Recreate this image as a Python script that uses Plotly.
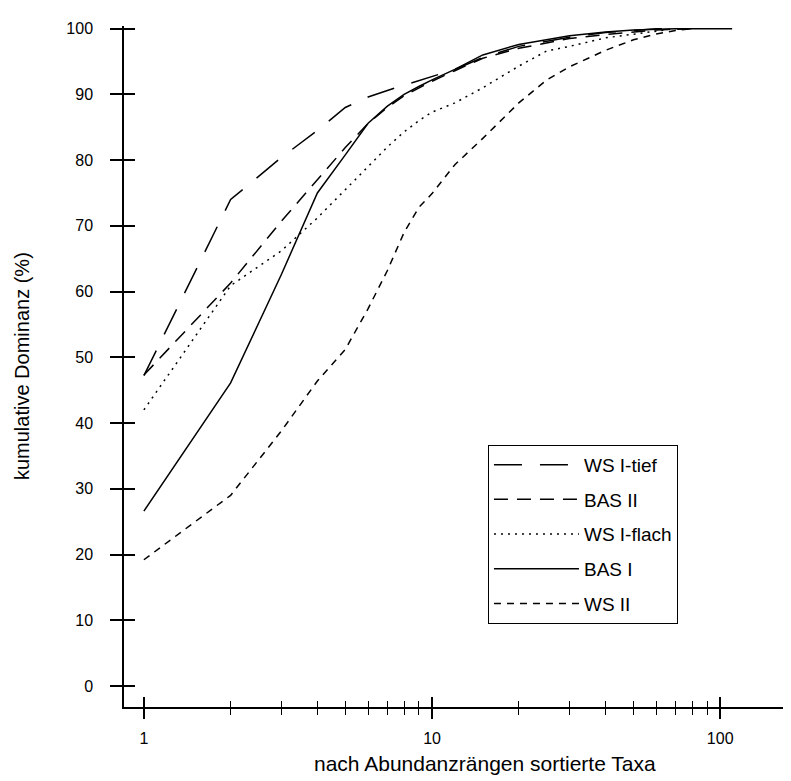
import plotly.graph_objects as go

# Ränge (x) und kumulative Dominanz (%) je Standort
ranks_ws1_tief = [1, 2, 3, 4, 5, 6, 7, 8, 9, 10, 12, 15, 20, 30, 40, 50, 60, 70]
ws1_tief = [47.2, 74.0, 80.4, 84.5, 88.0, 89.6, 90.6, 91.4, 92.0, 92.7,
            93.8, 95.6, 97.3, 98.7, 99.4, 99.7, 100, 100]

ranks_bas2 = [1, 2, 3, 4, 5, 6, 7, 8, 9, 10, 12, 15, 20, 30, 40, 50, 60, 80]
bas2 = [47.3, 61.3, 70.7, 77.1, 81.9, 85.6, 88.0, 89.8, 91.0, 92.0,
        93.6, 95.5, 97.0, 98.5, 99.1, 99.5, 99.8, 100]

ranks_ws1_flach = [1, 2, 3, 4, 5, 6, 7, 8, 9, 10, 12, 15, 20, 25, 30, 40, 50, 60, 70]
ws1_flach = [42.0, 60.9, 66.2, 71.2, 75.5, 79.0, 82.0, 84.3, 86.0, 87.3,
             88.7, 91.0, 94.3, 96.6, 97.3, 98.6, 99.2, 99.6, 100]

ranks_bas1 = [1, 2, 3, 4, 5, 6, 7, 8, 9, 10, 12, 15, 20, 30, 40, 50, 70, 110]
bas1 = [26.6, 46.1, 62.6, 75.0, 80.8, 85.6, 88.2, 90.0, 91.2, 92.2,
        93.8, 96.0, 97.6, 98.9, 99.5, 99.8, 100, 100]

ranks_ws2 = [1, 2, 3, 4, 5, 6, 7, 8, 9, 10, 12, 15, 20, 25, 30, 40, 50, 60, 70, 80]
ws2 = [19.2, 29.0, 38.8, 46.4, 51.2, 57.4, 63.2, 69.0, 72.8, 74.9,
       79.3, 83.3, 88.7, 92.2, 94.2, 96.7, 98.3, 99.2, 99.7, 100]

y_ticks = [0, 10, 20, 30, 40, 50, 60, 70, 80, 90, 100]
x_ticks = [1, 10, 100]
x_minor = [2, 3, 4, 5, 6, 7, 8, 9, 20, 30, 40, 50, 60, 70, 80, 90]

FONT = "Liberation Sans, Arial, sans-serif"
X_RANGE = [-0.069, 2.27]
Y_RANGE = [-3.2, 100.4]

series = [
    ("WS I-tief", ranks_ws1_tief, ws1_tief, "28px,18px"),
    ("BAS II", ranks_bas2, bas2, "14px,9px"),
    ("WS I-flach", ranks_ws1_flach, ws1_flach, "2px,5px"),
    ("BAS I", ranks_bas1, bas1, "solid"),
    ("WS II", ranks_ws2, ws2, "7px,6px"),
]

fig = go.Figure()
for name, x, y, dash in series:
    fig.add_trace(go.Scatter(
        x=x, y=y, name=name, legendgroup=name, mode="lines",
        line=dict(color="black", width=1.5, dash=dash),
    ))

fig.update_layout(
    width=791, height=781,
    paper_bgcolor="white", plot_bgcolor="white",
    margin=dict(l=116, r=1, t=18, b=82),
    font=dict(family=FONT, size=16, color="black"),
    showlegend=True,
    legend=dict(
        x=0.540, y=0.385, xanchor="left", yanchor="top",
        bordercolor="black", borderwidth=1, bgcolor="white",
        font=dict(size=19), itemwidth=85, tracegroupgap=7,
    ),
    xaxis=dict(
        type="log", range=X_RANGE, showgrid=False, zeroline=False,
        showline=True, linecolor="black", linewidth=1.5,
        tickvals=x_ticks, ticktext=[str(v) for v in x_ticks],
        ticks="outside", ticklen=10, tickwidth=1.5, tickcolor="black",
        minor=dict(tickvals=x_minor, ticks="outside", ticklen=6,
                   tickwidth=1.2, tickcolor="black", showgrid=False),
        ticklabelstandoff=6,
    ),
    xaxis2=dict(
        type="log", range=X_RANGE, overlaying="x", anchor="y",
        showgrid=False, zeroline=False, showline=False,
        tickvals=x_ticks, showticklabels=False,
        ticks="inside", ticklen=10, tickwidth=1.5, tickcolor="black",
        minor=dict(tickvals=x_minor, ticks="inside", ticklen=6,
                   tickwidth=1.2, tickcolor="black", showgrid=False),
    ),
    yaxis=dict(
        range=Y_RANGE, showgrid=False, zeroline=False,
        showline=True, linecolor="black", linewidth=1.5,
        tickvals=y_ticks, ticks="outside", ticklen=12,
        tickwidth=1.5, tickcolor="black", ticklabelstandoff=14,
    ),
    yaxis2=dict(
        range=Y_RANGE, overlaying="y", anchor="x", side="left",
        showgrid=False, zeroline=False, showline=False,
        tickvals=y_ticks, showticklabels=False,
        ticks="inside", ticklen=11, tickwidth=1.5, tickcolor="black",
    ),
    annotations=[
        dict(text="nach Abundanzrängen sortierte Taxa", xref="paper",
             yref="paper", x=0.535, y=-0.083, xanchor="center",
             yanchor="middle", showarrow=False, font=dict(size=21)),
        dict(text="kumulative Dominanz (%)", xref="paper", yref="paper",
             x=-0.152, y=0.50, xanchor="center", yanchor="middle",
             textangle=-90, showarrow=False, font=dict(size=20)),
    ],
)

# unsichtbare Spur, damit die zweiten Achsen gezeichnet werden
fig.add_trace(go.Scatter(x=[1], y=[0], xaxis="x2", yaxis="y2",
                         mode="markers", marker=dict(opacity=0),
                         showlegend=False, hoverinfo="skip"))

fig.write_html("out.html")
